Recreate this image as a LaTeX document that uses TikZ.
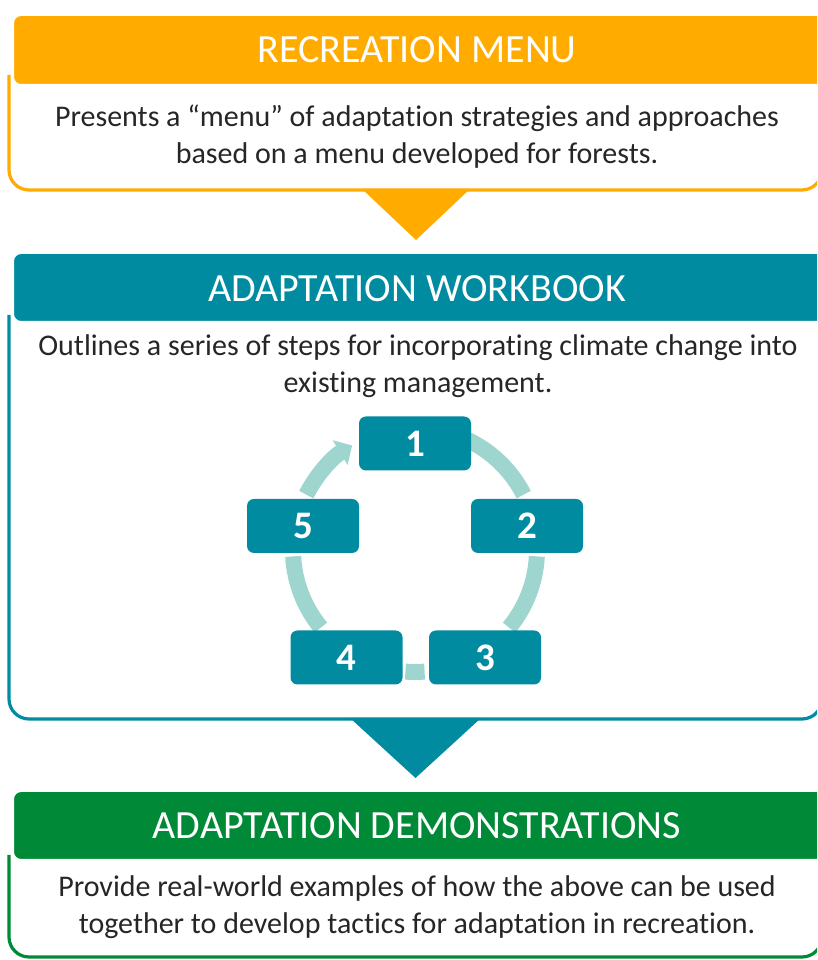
\documentclass[tikz,border=0pt]{standalone}
\usepackage{fontspec}
\setmainfont[Ligatures=NoCommon]{Carlito}
\usetikzlibrary{arrows.meta}
\definecolor{corange}{RGB}{255,171,0}
\definecolor{cteal}{RGB}{0,139,160}
\definecolor{cgreen}{RGB}{0,137,54}
\definecolor{clight}{RGB}{158,213,207}
\definecolor{ctext}{RGB}{38,38,38}
\begin{document}
\begin{tikzpicture}[x=1pt,y=1pt,
  headerbox/.style={draw=white, line width=2pt, rounded corners=8pt},
  bodyline/.style={line width=3.2pt, rounded corners=20pt},
  titletext/.style={text=white, font=\fontsize{40}{48}\selectfont, inner sep=0pt},
  bodytext/.style={text=ctext, font=\fontsize{30}{37}\selectfont, align=center, inner sep=0pt},
  stepbox/.style={fill=cteal, rounded corners=7pt, minimum width=112pt, minimum height=54pt,
    text=white, font=\bfseries\fontsize{39}{44}\selectfont, inner sep=0pt},
  band/.style={draw=clight, line width=16pt},
]
\useasboundingbox (0,0) rectangle (817,960);
\clip (0,0) rectangle (817,960);

% ---------- Recreation menu ----------
\fill[white] (9,885) rectangle (822,770);
\draw[bodyline, draw=corange] (9,885) -- (9,770) -- (822,770) -- (822,885);
\draw[headerbox, fill=corange] (13,945) rectangle (840,875);
\node[titletext] (title1) at (417,910) {RECREATION MENU};
\node[bodytext] (body1) at (417,823) {Presents a “menu” of adaptation strategies and approaches\\based on a menu developed for forests.};
\fill[corange] (362,771) -- (470,771) -- (416,720) -- cycle;

% ---------- Adaptation workbook ----------
\draw[bodyline, draw=cteal] (9,645) -- (9,241) -- (822,241) -- (822,645);
\draw[headerbox, fill=cteal] (13,707) rectangle (840,638);
\node[titletext] (title2) at (417,671) {ADAPTATION WORKBOOK};
\node[bodytext] (body2) at (418,594) {Outlines a series of steps for incorporating climate change into\\existing management.};
\fill[cteal] (350,242) -- (481,242) -- (415.5,182) -- cycle;

% cycle
\coordinate (cc) at (415,410);
\draw[band] (cc) ++(65:122) arc[start angle=65, end angle=27, radius=122];
\draw[band] (cc) ++(-3:122) arc[start angle=-3, end angle=-39.5, radius=122];
\draw[band] (cc) ++(-85.5:122) arc[start angle=-85.5, end angle=-94.5, radius=122];
\draw[band] (cc) ++(219.5:122) arc[start angle=219.5, end angle=183, radius=122];
\draw[band, -{Triangle[length=14pt,width=28pt]}] (cc) ++(153:122) arc[start angle=153, end angle=121, radius=122];

\node[stepbox] (s1) at (415,516.5) {1};
\node[stepbox] (s2) at (527,434) {2};
\node[stepbox] (s3) at (485,302.5) {3};
\node[stepbox] (s4) at (346.5,302.5) {4};
\node[stepbox] (s5) at (303,434) {5};

% ---------- Adaptation demonstrations ----------
\fill[white] (9,105) rectangle (822,3);
\draw[bodyline, draw=cgreen] (9,105) -- (9,3) -- (822,3) -- (822,105);
\draw[headerbox, fill=cgreen] (13,169) rectangle (840,100);
\node[titletext] (title3) at (417,134) {ADAPTATION DEMONSTRATIONS};
\node[bodytext] (body3) at (417,53) {Provide real-world examples of how the above can be used\\together to develop tactics for adaptation in recreation.};
\end{tikzpicture}
\end{document}
